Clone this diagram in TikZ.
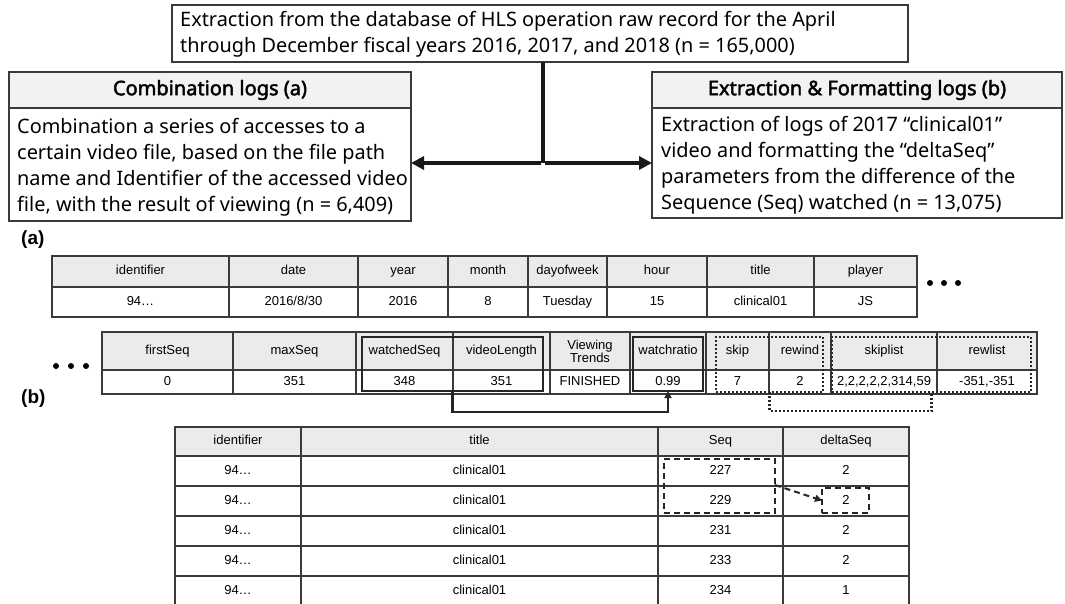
\documentclass[tikz,border=0pt]{standalone}
\usepackage{fontspec}
\setmainfont{Noto Sans}
\newfontfamily\hfont{Noto Sans}[FakeBold=2.2]
\newfontfamily\tabfont{Liberation Sans}
\usetikzlibrary{arrows.meta}
\definecolor{hdr}{HTML}{EBEBEB}
\definecolor{bhdr}{HTML}{F2F2F2}
\definecolor{ln}{HTML}{3A3A3A}
\newcommand{\tcell}[7]{\node[#1, minimum width={(#4-#3)*1pt}, minimum height={(#6-#5)*1pt}] (#2) at (#3,#5) {#7};}
\tikzset{
  fbox/.style={draw=ln, line width=1.2pt, inner sep=0pt, outer sep=0pt, anchor=north west},
  btxt/.style={inner sep=0pt, anchor=west, align=left, font=\fontsize{19.9}{26}\selectfont},
  htxt/.style={inner sep=0pt, font=\hfont\fontsize{20}{22}\selectfont},
  basecell/.style={draw=ln, fill=hdr, line width=1.1pt, inner sep=0pt, outer sep=0pt, anchor=north west, align=center, font=\tabfont\fontsize{13}{14}\selectfont},
  hcell/.style={basecell, text height=9.5pt, text depth=2.8pt},
  dcell/.style={hcell, fill=white},
  flow/.style={line width=4pt, draw=black!90},
  flowarrow/.style={flow, -{Triangle[length=13pt,width=13pt]}},
  thickbox/.style={draw=black!85, line width=2.4pt, inner sep=0pt, outer sep=0pt, anchor=north west},
  dotbox/.style={draw=black!85, line width=2.6pt, dash pattern=on 2pt off 2pt, inner sep=0pt, outer sep=0pt, anchor=north west},
  dashbox/.style={draw=black!85, line width=2pt, dash pattern=on 6pt off 4pt, inner sep=0pt, outer sep=0pt, anchor=north west},
  dotconn/.style={draw=black!85, line width=2.6pt, dash pattern=on 2pt off 2pt},
  lbl/.style={inner sep=0pt, font=\tabfont\bfseries\fontsize{19}{20}\selectfont},
  bullet/.style={circle, fill=black, inner sep=0pt, minimum size=6pt}
}
\begin{document}
\begin{tikzpicture}[x=1pt,y=-1pt]
\useasboundingbox (0,0) rectangle (1065,604);
% top box
\tcell{fbox}{top}{172}{908}{5}{62}{}
\node[btxt] (toptxt) at (180,34) {Extraction from the database of HLS operation raw record for the April\\through December fiscal years 2016, 2017, and 2018 (n = 165,000)};
% left box
\tcell{fbox,fill=bhdr}{lhead}{9}{411}{72}{108}{}
\tcell{fbox}{lbody}{9}{411}{108}{221}{}
\node[htxt] (lhtxt) at (lhead.center) {Combination logs (a)};
\node[btxt] (lbtxt) at (17,167) {Combination a series of accesses to a\\certain video file, based on the file path\\name and Identifier of the accessed video\\file, with the result of viewing (n = 6,409)};
% right box
\tcell{fbox,fill=bhdr}{rhead}{652}{1062}{72}{108}{}
\tcell{fbox}{rbody}{652}{1062}{108}{218}{}
\node[htxt] (rhtxt) at (rhead.center) {Extraction \& Formatting logs (b)};
\node[btxt] (rbtxt) at (661,165.5) {Extraction of logs of 2017 “clinical01”\\video and formatting the “deltaSeq”\\parameters from the difference of the\\Sequence (Seq) watched (n = 13,075)};
% connectors
\coordinate (jtop) at (543,62);
\coordinate (j) at (543,163);
\draw[flow] (jtop) -- (j);
\draw[flowarrow] ([xshift=-2pt]j) -- (lbody.east |- j);
\draw[flowarrow] ([xshift=2pt]j) -- (rbody.west |- j);
% labels
\node[lbl, anchor=west] (la) at (21,240) {(a)};
\node[lbl, anchor=west] (lb) at (21,399) {(b)};
% table 1
\tcell{hcell}{a1}{52}{229}{256}{287}{identifier}
\tcell{hcell}{a2}{229}{358}{256}{287}{date}
\tcell{hcell}{a3}{358}{448}{256}{287}{year}
\tcell{hcell}{a4}{448}{528}{256}{287}{month}
\tcell{hcell}{a5}{528}{607}{256}{287}{dayofweek}
\tcell{hcell}{a6}{607}{707}{256}{287}{hour}
\tcell{hcell}{a7}{707}{814}{256}{287}{title}
\tcell{hcell}{a8}{814}{917}{256}{287}{player}
\tcell{dcell}{b1}{52}{229}{287}{317}{94…}
\tcell{dcell}{b2}{229}{358}{287}{317}{2016/8/30}
\tcell{dcell}{b3}{358}{448}{287}{317}{2016}
\tcell{dcell}{b4}{448}{528}{287}{317}{8}
\tcell{dcell}{b5}{528}{607}{287}{317}{Tuesday}
\tcell{dcell}{b6}{607}{707}{287}{317}{15}
\tcell{dcell}{b7}{707}{814}{287}{317}{clinical01}
\tcell{dcell}{b8}{814}{917}{287}{317}{JS}
\node[bullet] (d1) at (930,283) {};
\node[bullet] (d2) at (944,283) {};
\node[bullet] (d3) at (958,283) {};
% table 2
\tcell{hcell}{c1}{102}{233}{332}{370}{firstSeq}
\tcell{hcell}{c2}{233}{356}{332}{370}{maxSeq}
\tcell{hcell}{c3}{356}{453}{332}{370}{watchedSeq}
\tcell{hcell}{c4}{453}{550}{332}{370}{videoLength}
\tcell{basecell}{c5}{550}{630}{332}{370}{Viewing\\[-1pt]Trends}
\tcell{hcell}{c6}{630}{706}{332}{370}{watchratio}
\tcell{hcell}{c7}{706}{769}{332}{370}{skip}
\tcell{hcell}{c8}{769}{831}{332}{370}{rewind}
\tcell{hcell}{c9}{831}{937}{332}{370}{skiplist}
\tcell{hcell}{c10}{937}{1037}{332}{370}{rewlist}
\tcell{dcell}{e1}{102}{233}{370}{394}{0}
\tcell{dcell}{e2}{233}{356}{370}{394}{351}
\tcell{dcell}{e3}{356}{453}{370}{394}{348}
\tcell{dcell}{e4}{453}{550}{370}{394}{351}
\tcell{dcell}{e5}{550}{630}{370}{394}{FINISHED}
\tcell{dcell}{e6}{630}{706}{370}{394}{0.99}
\tcell{dcell}{e7}{706}{769}{370}{394}{7}
\tcell{dcell}{e8}{769}{831}{370}{394}{2}
\tcell{dcell}{e9}{831}{937}{370}{394}{2,2,2,2,2,314,59}
\tcell{dcell}{e10}{937}{1037}{370}{394}{-351,-351}
\node[bullet] (d4) at (56,366) {};
\node[bullet] (d5) at (71,366) {};
\node[bullet] (d6) at (86,366) {};
% highlight boxes on table 2
\tcell{thickbox}{wbox}{362}{543}{337}{391}{}
\tcell{thickbox}{rbox}{633}{703}{337}{391}{}
\tcell{dotbox}{skbox}{716}{823}{337}{392}{}
\tcell{dotbox}{slbox}{832}{1031}{337}{392}{}
\draw[draw=black!85, line width=2.4pt, -{Triangle[length=7pt,width=7pt]}] (wbox.south) -- ++(0,21) -| (rbox.south);
\draw[dotconn] (skbox.south) -- ++(0,19) -| (slbox.south);
% table 3
\tcell{hcell}{f1}{175}{301}{427}{456}{identifier}
\tcell{hcell}{f2}{301}{658}{427}{456}{title}
\tcell{hcell}{f3}{658}{783}{427}{456}{Seq}
\tcell{hcell}{f4}{783}{909}{427}{456}{deltaSeq}
\foreach \r/\ya/\yb/\s/\d in {1/456/486/227/2, 2/486/516/229/2, 3/516/546/231/2, 4/546/576/233/2, 5/576/607/234/1}{
  \tcell{dcell}{g\r a}{175}{301}{\ya}{\yb}{94…}
  \tcell{dcell}{g\r b}{301}{658}{\ya}{\yb}{clinical01}
  \tcell{dcell}{g\r c}{658}{783}{\ya}{\yb}{\s}
  \tcell{dcell}{g\r d}{783}{909}{\ya}{\yb}{\d}
}
\tcell{dashbox}{seqbox}{664}{775}{459}{513}{}
\tcell{dashbox}{dbox}{822}{869}{488}{513}{}
\draw[draw=black!85, line width=2pt, dash pattern=on 6pt off 4pt, -{Triangle[length=7pt,width=7pt]}] ([yshift=1pt]seqbox.east) -- (dbox.west);
\end{tikzpicture}
\end{document}
